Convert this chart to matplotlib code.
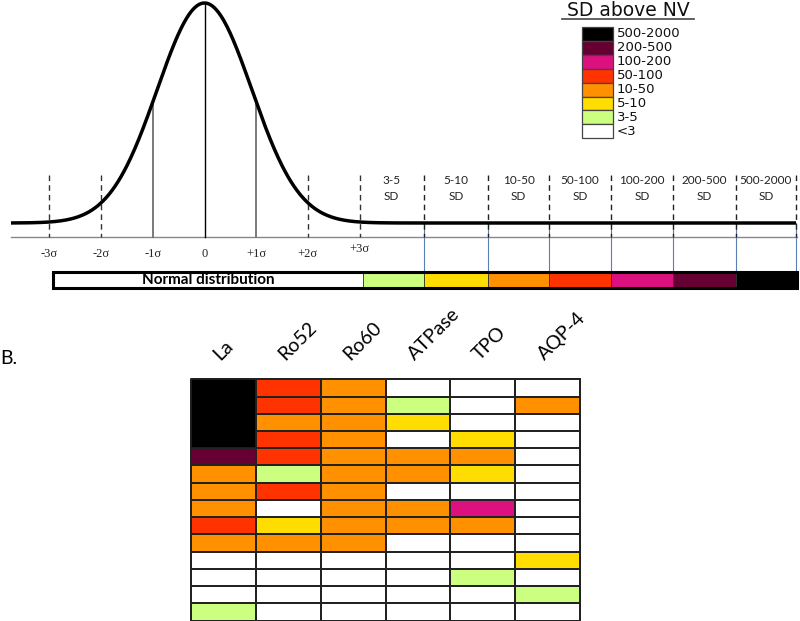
import numpy as np
import matplotlib
matplotlib.use('Agg')
import matplotlib.pyplot as plt
from matplotlib.colors import ListedColormap, BoundaryNorm
from matplotlib.patches import Rectangle

# ---------------- data ----------------
bin_labels = ['<3', '3-5', '5-10', '10-50', '50-100', '100-200', '200-500', '500-2000']
bin_colors = ['#FFFFFF', '#CCFF80', '#FFDD00', '#FF9000', '#FF3300', '#DD1080', '#660033', '#000000']
sigma_ticks = [-3, -2, -1, 0, 1, 2, 3]
sigma_labels = ['-3σ', '-2σ', '-1σ', '0', '+1σ', '+2σ', '+3σ']
antigens = ['La', 'Ro52', 'Ro60', 'ATPase', 'TPO', 'AQP-4']
# level index into bin_labels, one row per sample, columns = antigens
levels = [
    [7, 4, 3, 0, 0, 0],
    [7, 4, 3, 1, 0, 3],
    [7, 3, 3, 2, 0, 0],
    [7, 4, 3, 0, 2, 0],
    [6, 4, 3, 3, 3, 0],
    [3, 1, 3, 3, 2, 0],
    [3, 4, 3, 0, 0, 0],
    [3, 0, 3, 3, 5, 0],
    [4, 2, 3, 3, 3, 0],
    [3, 3, 3, 0, 0, 0],
    [0, 0, 0, 0, 0, 2],
    [0, 0, 0, 0, 1, 0],
    [0, 0, 0, 0, 0, 1],
    [1, 0, 0, 0, 0, 0],
]
# La samples 1-4 are shown as one merged cell
merged_rows = 4

# ---------------- layout (pixels) ----------------
W, H = 800, 621
MU, SIG_TICK, SIG_CURVE = 204.5, 51.7, 47.3
BASE, PEAK, AXIS_Y = 223, 3, 237
DASH_TOP = 175
bin_edges_px = [359, 424, 488, 549, 611, 673, 736, 796]
CB_X0, CB_Y, CB_H = 53, 272, 16
cb_edges = [53, 363, 424, 488, 549, 611, 673, 736, 797]

fig = plt.figure(figsize=(8, 6.21), dpi=100)
ax = fig.add_axes([0, 0, 1, 1])
ax.set_xlim(0, W)
ax.set_ylim(H, 0)
ax.axis('off')

def curve(x):
    return BASE - (BASE - PEAK) * np.exp(-0.5 * ((x - MU) / SIG_CURVE) ** 2)

# axis line
ax.plot([11, 797], [AXIS_Y, AXIS_Y], color='#888888', lw=1.0, zorder=1)

# sigma verticals & labels
for k, lab in zip(sigma_ticks, sigma_labels):
    xk = MU + k * SIG_TICK
    if k == 0:
        ax.plot([xk, xk], [PEAK + 1, AXIS_Y], color='black', lw=1.0, zorder=2)
    elif abs(k) == 1:
        ax.plot([xk, xk], [curve(xk), AXIS_Y], color='#707070', lw=1.3, zorder=2)
    else:
        ax.plot([xk, xk], [DASH_TOP, AXIS_Y], color='#333333', lw=1.0,
                dashes=(4, 3), zorder=2)
    ly = 249 if k == 3 else 254
    ax.text(xk, ly, lab, ha='center', va='center', fontsize=9,
            family='Liberation Serif', color='#222222')

# SD-bin verticals and labels
for i, xe in enumerate(bin_edges_px):
    if i > 0:
        ax.plot([xe, xe], [DASH_TOP, AXIS_Y], color='#222222', lw=1.0,
                dashes=(4, 3), zorder=3)
        ax.plot([xe, xe], [BASE, CB_Y], color='#5b7fb0', lw=0.8, zorder=1)
        cx = (bin_edges_px[i - 1] + xe) / 2
        ax.text(cx, 181, bin_labels[i], ha='center', va='center', fontsize=8.5,
                family='Lato', color='#222222')
        ax.text(cx, 197, 'SD', ha='center', va='center', fontsize=8.5,
                family='Lato', color='#222222')

# normal curve
xs = np.linspace(11, 796, 800)
ax.plot(xs, curve(xs), color='black', lw=2.5, solid_capstyle='butt', zorder=4)

# colour bar
for i in range(len(cb_edges) - 1):
    ax.add_patch(Rectangle((cb_edges[i], CB_Y), cb_edges[i + 1] - cb_edges[i], CB_H,
                           facecolor=bin_colors[i], edgecolor='#333333', lw=0.6, zorder=2))
ax.add_patch(Rectangle((CB_X0, CB_Y), cb_edges[-1] - CB_X0, CB_H, facecolor='none',
                       edgecolor='black', lw=2.2, zorder=3))
ax.text((cb_edges[0] + cb_edges[1]) / 2, CB_Y + CB_H / 2, 'Normal distribution',
        ha='center', va='center', fontsize=11, fontweight='bold', family='Lato', zorder=4)

# legend
ax.text(628, 10, 'SD above NV', ha='center', va='center', fontsize=13.5,
        family='DejaVu Sans', color='#111111')
ax.plot([562, 694], [19, 19], color='#555555', lw=1.3)
LG_X, LG_Y, LG_W, LG_H = 582, 27, 31, 13.9
for j, (lab, col) in enumerate(zip(bin_labels[::-1], bin_colors[::-1])):
    ax.add_patch(Rectangle((LG_X, LG_Y + j * LG_H), LG_W, LG_H, facecolor=col,
                           edgecolor='#444444', lw=0.9))
    ax.text(LG_X + LG_W + 4, LG_Y + (j + 0.5) * LG_H, lab, ha='left', va='center',
            fontsize=9.5, family='DejaVu Sans', color='#111111')

# panel label
ax.text(0, 359, 'B.', ha='left', va='center', fontsize=14, family='Lato')

# heatmap
HX0, HX1, HY0, HY1 = 191, 580, 379.3, 620.5
axh = fig.add_axes([HX0 / W, 1 - HY1 / H, (HX1 - HX0) / W, (HY1 - HY0) / H])
cmap = ListedColormap(bin_colors)
norm = BoundaryNorm(np.arange(-0.5, len(bin_colors) + 0.5), cmap.N)
mesh = axh.pcolormesh(np.array(levels), cmap=cmap, norm=norm,
                      edgecolors='#222222', linewidth=1.2)
mesh.set_clip_on(False)
# merged La cell
axh.add_patch(Rectangle((0, 0), 1, merged_rows, facecolor=cmap(norm(levels[0][0])),
                        edgecolor='#222222', lw=1.2, clip_on=False, zorder=3))
axh.set_xlim(0, len(antigens))
axh.set_ylim(len(levels), 0)
axh.axis('off')
row_px = (HY1 - HY0) / len(levels)
col_px = (HX1 - HX0) / len(antigens)
for i, name in enumerate(antigens):
    axh.text(i + 0.5 - 3 / col_px, -(HY0 - 361) / row_px, name, rotation=45,
             rotation_mode='anchor', ha='left', va='baseline', fontsize=14,
             family='Lato', clip_on=False)

fig.savefig('out.png', dpi=100)
